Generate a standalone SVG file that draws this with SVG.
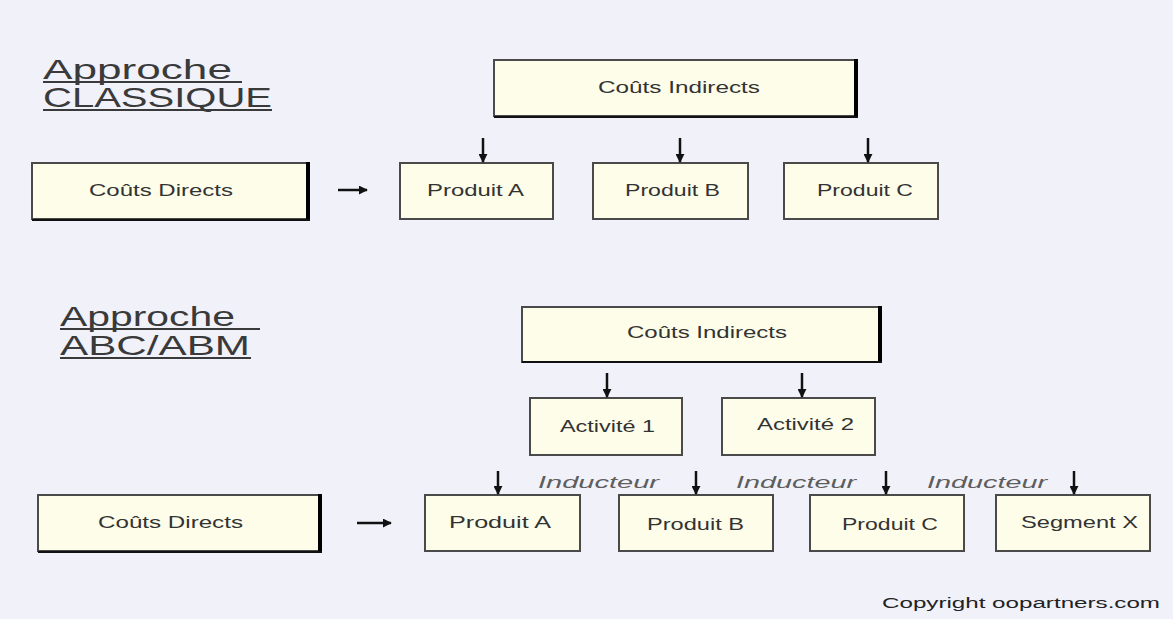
<svg xmlns="http://www.w3.org/2000/svg" width="1173" height="619" viewBox="0 0 1173 619">
<defs>
<marker id="ah" viewBox="0 0 10 10" refX="9" refY="5" markerWidth="3.6" markerHeight="3.6" orient="auto" markerUnits="strokeWidth">
<path d="M0,0 L10,5 L0,10 Z" fill="#111"/>
</marker>
<style>
.bg{fill:#f1f1fa}
.box{fill:#fdfde9;stroke:#4a4a4a;stroke-width:2}
.shadow{stroke:#000;stroke-width:4;fill:none}
.shadowb{stroke:#111;stroke-width:2;fill:none}
.t{font-family:"Liberation Sans",Arial,sans-serif;font-size:16.5px;fill:#333}
.h{font-family:"Liberation Sans",Arial,sans-serif;font-size:28px;fill:#3a3a3a}
.ul{stroke:#3a3a3a;stroke-width:2}
.ind{font-family:"Liberation Sans",Arial,sans-serif;font-size:17px;font-style:italic;fill:#5e5e5e}
.cp{font-family:"Liberation Sans",Arial,sans-serif;font-size:14px;fill:#222}
.arr{stroke:#111;stroke-width:2.5;fill:none;marker-end:url(#ah)}
</style>
</defs>
<rect class="bg" x="0" y="0" width="1173" height="619"/>

<g id="title-classique">
<text class="h" x="43" y="79" textLength="189" lengthAdjust="spacingAndGlyphs">Approche</text>
<line class="ul" x1="43" y1="82" x2="242" y2="82"/>
<text class="h" x="43" y="107" textLength="229" lengthAdjust="spacingAndGlyphs">CLASSIQUE</text>
<line class="ul" x1="43" y1="110" x2="272" y2="110"/>
</g>

<g id="ci1">
<rect class="box" x="494" y="60" width="362" height="56"/>
<line class="shadow" x1="856" y1="59" x2="856" y2="118"/>
<line class="shadowb" x1="494" y1="117" x2="858" y2="117"/>
<text class="t" x="598" y="93" textLength="162" lengthAdjust="spacingAndGlyphs">Coûts Indirects</text>
</g>

<g id="cd1">
<rect class="box" x="32" y="163" width="276" height="56"/>
<line class="shadow" x1="308" y1="162" x2="308" y2="221"/>
<line class="shadowb" x1="32" y1="220" x2="310" y2="220"/>
<text class="t" x="89" y="196" textLength="144" lengthAdjust="spacingAndGlyphs">Coûts Directs</text>
</g>

<g id="pa1">
<rect class="box" x="400" y="163" width="153" height="56"/>
<text class="t" x="427" y="196" textLength="97" lengthAdjust="spacingAndGlyphs">Produit A</text>
</g>
<g id="pb1">
<rect class="box" x="593" y="163" width="155" height="56"/>
<text class="t" x="625" y="196" textLength="95" lengthAdjust="spacingAndGlyphs">Produit B</text>
</g>
<g id="pc1">
<rect class="box" x="784" y="163" width="154" height="56"/>
<text class="t" x="817" y="196" textLength="96" lengthAdjust="spacingAndGlyphs">Produit C</text>
</g>

<g id="title-abc">
<text class="h" x="60" y="326" textLength="175" lengthAdjust="spacingAndGlyphs">Approche</text>
<line class="ul" x1="60" y1="329" x2="260" y2="329"/>
<text class="h" x="60" y="355" textLength="190" lengthAdjust="spacingAndGlyphs">ABC/ABM</text>
<line class="ul" x1="60" y1="358" x2="251" y2="358"/>
</g>

<g id="ci2">
<rect class="box" x="522" y="307" width="358" height="55"/>
<line class="shadow" x1="880" y1="306" x2="880" y2="363"/>
<line class="shadowb" x1="522" y1="362" x2="882" y2="362"/>
<text class="t" x="627" y="338" textLength="160" lengthAdjust="spacingAndGlyphs">Coûts Indirects</text>
</g>

<g id="act1">
<rect class="box" x="530" y="398" width="152" height="57"/>
<text class="t" x="560" y="432" textLength="95" lengthAdjust="spacingAndGlyphs">Activité 1</text>
</g>
<g id="act2">
<rect class="box" x="722" y="398" width="153" height="57"/>
<text class="t" x="757" y="430" textLength="97" lengthAdjust="spacingAndGlyphs">Activité 2</text>
</g>

<g id="cd2">
<rect class="box" x="38" y="495" width="282" height="56"/>
<line class="shadow" x1="320" y1="494" x2="320" y2="553"/>
<line class="shadowb" x1="38" y1="552" x2="322" y2="552"/>
<text class="t" x="98" y="528" textLength="145" lengthAdjust="spacingAndGlyphs">Coûts Directs</text>
</g>

<g id="pa2">
<rect class="box" x="425" y="495" width="155" height="56"/>
<text class="t" x="449" y="528" textLength="102" lengthAdjust="spacingAndGlyphs">Produit A</text>
</g>
<g id="pb2">
<rect class="box" x="619" y="495" width="154" height="56"/>
<text class="t" x="647" y="530" textLength="97" lengthAdjust="spacingAndGlyphs">Produit B</text>
</g>
<g id="pc2">
<rect class="box" x="810" y="495" width="154" height="56"/>
<text class="t" x="842" y="530" textLength="96" lengthAdjust="spacingAndGlyphs">Produit C</text>
</g>
<g id="sx">
<rect class="box" x="996" y="495" width="154" height="56"/>
<text class="t" x="1021" y="528" textLength="117" lengthAdjust="spacingAndGlyphs">Segment X</text>
</g>

<g id="connectors">
<line class="arr" x1="483" y1="138" x2="483" y2="162"/>
<line class="arr" x1="680" y1="138" x2="680" y2="162"/>
<line class="arr" x1="868" y1="138" x2="868" y2="162"/>
<line class="arr" x1="338" y1="190" x2="367" y2="190"/>
<line class="arr" x1="607" y1="373" x2="607" y2="397"/>
<line class="arr" x1="802" y1="373" x2="802" y2="397"/>
<line class="arr" x1="498" y1="471" x2="498" y2="494"/>
<line class="arr" x1="696" y1="471" x2="696" y2="494"/>
<line class="arr" x1="886" y1="471" x2="886" y2="494"/>
<line class="arr" x1="1074" y1="471" x2="1074" y2="494"/>
<line class="arr" x1="357" y1="523" x2="391" y2="523"/>
<text class="ind" x="538" y="488" textLength="121" lengthAdjust="spacingAndGlyphs">Inducteur</text>
<text class="ind" x="736" y="488" textLength="120" lengthAdjust="spacingAndGlyphs">Inducteur</text>
<text class="ind" x="927" y="488" textLength="120" lengthAdjust="spacingAndGlyphs">Inducteur</text>
</g>

<text class="cp" x="882" y="608" textLength="278" lengthAdjust="spacingAndGlyphs">Copyright oopartners.com</text>
</svg>
